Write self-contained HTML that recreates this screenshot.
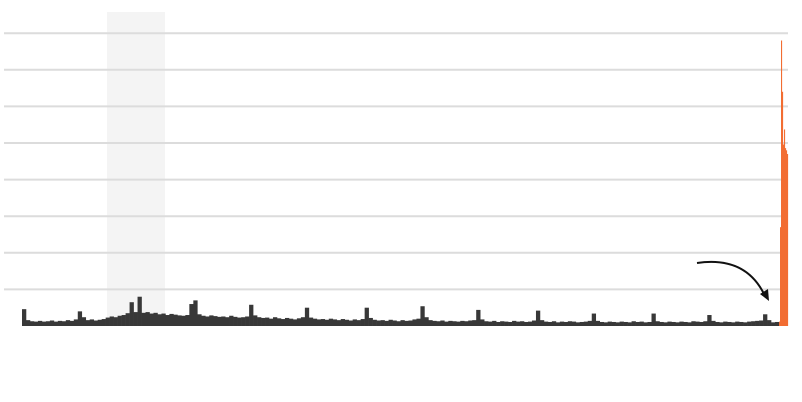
<!DOCTYPE html>
<html><head><meta charset="utf-8"><style>
html,body{margin:0;padding:0;background:#fff;}
svg{display:block;font-family:"Liberation Sans",sans-serif;}
</style></head><body>
<svg id="chart" width="802" height="402" viewBox="0 0 802 402">
<rect x="107" y="12" width="58" height="314" fill="#f4f4f4"/>
<g id="grid"></g>
<g id="bars"></g>
<g id="obars"></g>
<path d="M697,263 Q745,256 764,294" fill="none" stroke="#111" stroke-width="2"/>
<polygon points="769,301 760,294 768,289" fill="#111"/>
</svg>
<script>
const gridValues=[10,20,30,40,50,60,70,80];
const darkValues=[4.6,1.6,1.3,1.2,1.4,1.2,1.3,1.5,1.2,1.4,
1.3,1.6,1.4,1.8,4.0,2.4,1.6,1.8,1.5,1.7,
1.9,2.3,2.6,2.4,2.8,3.0,3.5,6.5,3.8,8.0,
3.6,3.8,3.4,3.6,3.2,3.4,3.0,3.3,3.1,2.9,
2.8,3.0,6.0,7.0,3.2,2.8,2.6,2.9,2.7,2.5,
2.6,2.4,2.8,2.5,2.3,2.4,2.6,5.8,2.9,2.4,
2.2,2.3,2.0,2.4,2.1,1.9,2.2,2.0,1.8,2.1,
2.4,5.0,2.3,2.0,1.8,1.9,1.7,2.0,1.8,1.6,
1.9,1.7,1.5,1.8,1.6,1.9,5.0,2.2,1.7,1.5,
1.6,1.4,1.7,1.5,1.3,1.6,1.4,1.5,1.8,2.0,
5.4,2.4,1.6,1.4,1.3,1.5,1.2,1.4,1.3,1.2,
1.4,1.3,1.5,1.6,4.4,1.8,1.3,1.2,1.4,1.1,
1.3,1.2,1.1,1.4,1.2,1.3,1.1,1.2,1.5,4.2,
1.6,1.2,1.1,1.3,1.0,1.2,1.1,1.3,1.2,1.0,
1.1,1.2,1.4,3.4,1.4,1.1,1.0,1.2,1.1,1.0,
1.2,1.1,1.0,1.3,1.1,1.2,1.0,1.1,3.4,1.3,
1.1,1.0,1.2,1.1,1.0,1.2,1.1,1.0,1.3,1.2,
1.1,1.3,3.0,1.4,1.1,1.0,1.2,1.1,1.0,1.2,
1.1,1.0,1.2,1.3,1.4,1.5,3.2,1.6,1.0,1.1];
const orangeValues=[1.2,27,78,64,49.6,53.7,48.6,48,47];
const NS="http://www.w3.org/2000/svg";
const base=326, unit=36.6/10;
const y=v=>base-v*unit;
const grid=document.getElementById('grid');
gridValues.forEach(g=>{const l=document.createElementNS(NS,'line');


l.setAttribute('x1',4);l.setAttribute('x2',788);l.setAttribute('y1',y(g));l.setAttribute('y2',y(g));
l.setAttribute('stroke','#dcdcdc');l.setAttribute('stroke-width','2');grid.appendChild(l);});
const xd=i=>22+i*(757/darkValues.length);
const bw=757/darkValues.length;
const bars=document.getElementById('bars');
darkValues.forEach((v,i)=>{const r=document.createElementNS(NS,'rect');


r.setAttribute('x',xd(i));r.setAttribute('width',bw+0.3);r.setAttribute('y',y(v));r.setAttribute('height',v*unit);
r.setAttribute('fill','#383838');bars.appendChild(r);});
const ob=document.getElementById('obars');
orangeValues.forEach((v,i)=>{const r=document.createElementNS(NS,'rect');


r.setAttribute('x',779+i);r.setAttribute('width',1.1);r.setAttribute('y',y(v));r.setAttribute('height',v*unit);
r.setAttribute('fill','#f26d32');ob.appendChild(r);});
</script>
</body></html>
